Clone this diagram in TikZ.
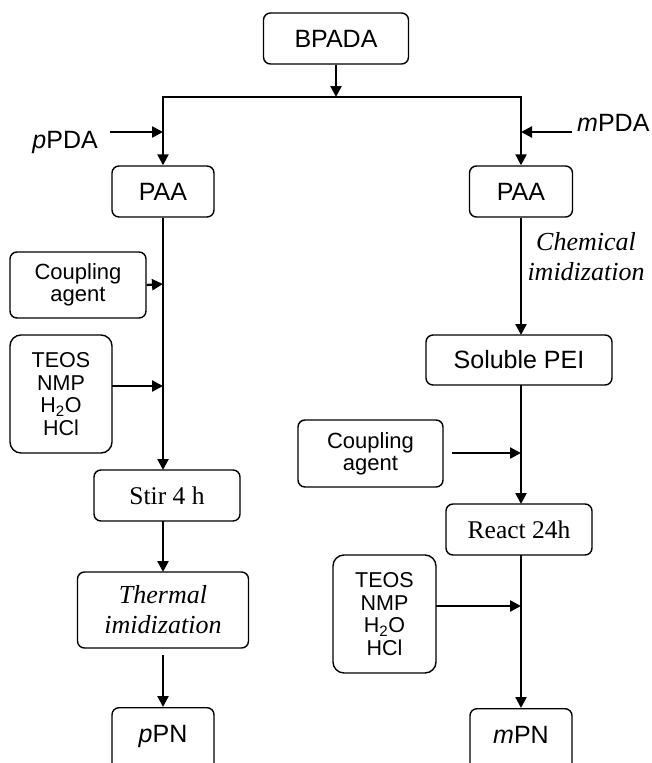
\documentclass[tikz,border=0pt]{standalone}
\usepackage{fontspec}
\setmainfont{Liberation Sans}
\newfontfamily\serifont{Liberation Serif}
\usetikzlibrary{arrows.meta}
\begin{document}
\begin{tikzpicture}[x=1pt,y=-1pt,
  box/.style={draw, line width=1.4pt, rounded corners=7pt, inner sep=0pt, align=center},
  big/.style={font=\fontsize{25}{30}\selectfont},
  small/.style={font=\fontsize{22}{22}\selectfont},
  chem/.style={font=\fontsize{21.5}{22.5}\selectfont},
  ser/.style={font=\serifont\fontsize{25.5}{30}\selectfont},
  seri/.style={font=\serifont\itshape\fontsize{26}{30}\selectfont},
  flow/.style={line width=2.3pt, -{Triangle[length=11pt,width=11pt]}}]
\useasboundingbox (0,0) rectangle (652,763);
\clip (0,0) rectangle (652,763);

% top
\node[box, big, minimum width=145pt, minimum height=51pt] (bpada) at (336,38.5) {BPADA};
\coordinate (j) at (336,97);
\node[box, big, minimum width=102pt, minimum height=51pt] (paal) at (163,191.5) {PAA};
\node[box, big, minimum width=103pt, minimum height=51pt] (paar) at (521,191.5) {PAA};
\draw[flow] (bpada) -- (j);
\draw[flow] (j) -| (paal);
\draw[flow] (j) -| (paar);

% pPDA / mPDA
\node[big, anchor=base east, inner sep=0pt] (ppda) at (98,148) {\textit{p}PDA};
\coordinate (ppdaS) at (110,132);
\coordinate (ppdaE) at (163,132);
\draw[flow] (ppdaS) -- (ppdaE);
\node[big, anchor=base west, inner sep=0pt] (mpda) at (577,131) {\textit{m}PDA};
\coordinate (mpdaS) at (572,132);
\coordinate (mpdaE) at (521,132);
\draw[flow] (mpdaS) -- (mpdaE);

% left chain
\node[box, small, minimum width=136pt, minimum height=66pt] (cpl) at (78,285) {Coupling\\agent};
\node[box, chem, rounded corners=11pt, minimum width=102pt, minimum height=118pt] (teosl) at (61,394) {TEOS\\NMP\\H\textsubscript{2}O\\HCl};
\node[box, ser, minimum width=146pt, minimum height=51pt] (stir) at (167,495.5) {Stir 4 h};
\node[box, seri, minimum width=171pt, minimum height=76pt] (therm) at (163,610) {Thermal\\imidization};
\node[box, minimum width=102pt, minimum height=64pt, anchor=north,
  label={[big, anchor=base, inner sep=0pt, yshift=-35pt]north:\textit{p}PN}] (ppn) at (163,707) {};

\coordinate (ls) at (163,470);
\draw[flow] (paal.south) -- (ls);
\coordinate (cplE) at (163,284);
\draw[flow] (cpl.east) -- (cplE);
\coordinate (teosS) at (112,386);
\coordinate (teosE) at (163,386);
\draw[flow] (teosS) -- (teosE);
\coordinate (stirS) at (163,521);
\coordinate (thermN) at (163,572);
\draw[flow] (stirS) -- (thermN);
\coordinate (tg) at (163,655);
\draw[flow] (tg) -- (ppn.north);

% right chain
\node[seri, align=center, inner sep=0pt] (chemim) at (586,257) {Chemical\\imidization};
\node[box, big, minimum width=186pt, minimum height=50pt] (spei) at (519,360) {Soluble PEI};
\node[box, small, minimum width=145pt, minimum height=67pt] (cplr) at (370.5,453.5) {Coupling\\agent};
\node[box, ser, minimum width=146pt, minimum height=51pt] (react) at (519,529.5) {React 24h};
\node[box, chem, rounded corners=11pt, minimum width=103pt, minimum height=118pt] (teosr) at (384.5,614) {TEOS\\NMP\\H\textsubscript{2}O\\HCl};
\node[box, minimum width=102pt, minimum height=64pt, anchor=north,
  label={[big, anchor=base, inner sep=0pt, yshift=-35pt]north:\textit{m}PN}] (mpn) at (521,708) {};

\coordinate (speiN) at (521,335);
\draw[flow] (paar.south) -- (speiN);
\coordinate (speiS) at (521,385);
\coordinate (reactN) at (521,504);
\draw[flow] (speiS) -- (reactN);
\coordinate (cplrS) at (452,453);
\coordinate (cplrE) at (521,453);
\draw[flow] (cplrS) -- (cplrE);
\coordinate (reactS) at (521,555);
\draw[flow] (reactS) -- (mpn.north);
\coordinate (teosrS) at (436,606);
\coordinate (teosrE) at (521,606);
\draw[flow] (teosrS) -- (teosrE);
\end{tikzpicture}
\end{document}
